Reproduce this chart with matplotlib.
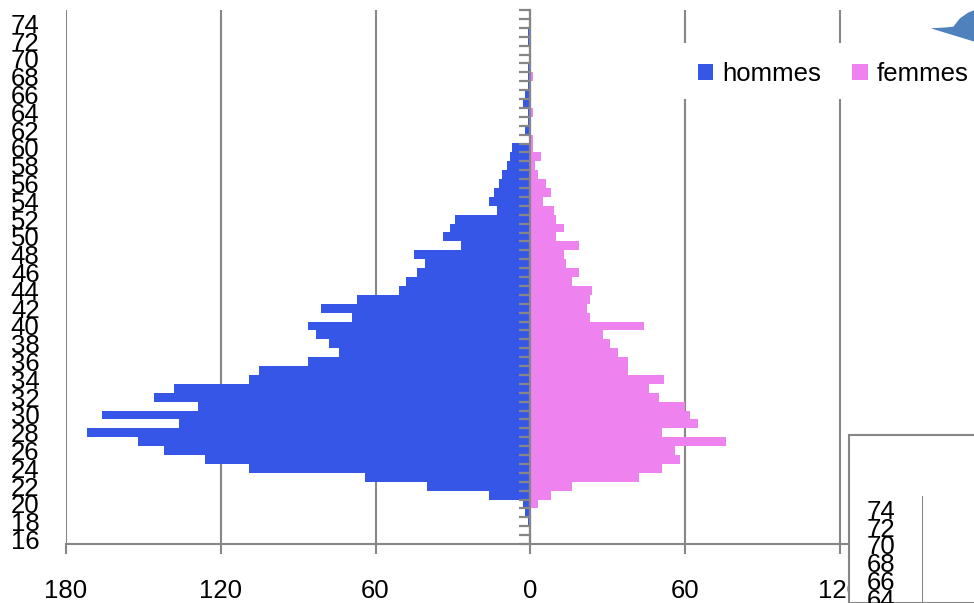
import matplotlib
matplotlib.use("Agg")
import matplotlib.pyplot as plt
from matplotlib.patches import Rectangle, Polygon

# pyramide des ages : une barre par age
ages = list(range(16, 76))
hommes = [0, 0, 1, 2, 3, 16, 40, 64, 109, 126,
          142, 152, 172, 136, 166, 129, 146, 138, 109, 105,
          86, 74, 78, 83, 86, 69, 81, 67, 51, 48,
          44, 41, 45, 27, 34, 31, 29, 13, 16, 14,
          12, 11, 9, 8, 7, 0, 2, 1, 1, 3,
          2, 1, 1, 1, 0, 0, 1, 1, 0, 0]
femmes = [0, 0, 0, 0, 3, 8, 16, 42, 51, 58,
          56, 76, 51, 65, 62, 60, 50, 46, 52, 38,
          38, 34, 31, 28, 44, 23, 22, 23, 24, 16,
          19, 14, 13, 19, 10, 13, 10, 9, 5, 8,
          6, 3, 2, 4, 1, 1, 0, 0, 1, 0,
          0, 0, 1, 0, 0, 0, 0, 0, 0, 0]
age_labels = list(range(16, 76, 2))
x_ticks = [-180, -120, -60, 0, 60, 120]
series = ['hommes', 'femmes']

W, H = 974, 603
plt.rcParams['font.family'] = ['Liberation Sans', 'DejaVu Sans']
plt.rcParams['font.size'] = 18.5

grey = '#868686'
bleu = '#3656E8'
rose = '#EE82EE'


def px(x0, y0, x1, y1):
    # boite en pixels (origine en haut a gauche) -> fraction de figure
    return [x0 / W, 1 - y1 / H, (x1 - x0) / W, (y1 - y0) / H]


def pyramide(ax):
    ax.barh(ages, [-v for v in hommes], height=1, color=bleu,
            edgecolor='none', label=series[0])
    ax.barh(ages, femmes, height=1, color=rose,
            edgecolor='none', label=series[1])
    ax.set_xlim(-180, 180)
    ax.set_ylim(15.5, 75.5)
    ax.set_xticks(x_ticks)
    ax.set_xticklabels([str(abs(t)) for t in x_ticks])
    ax.set_yticks(age_labels)
    ax.set_yticklabels([str(a) for a in age_labels])
    ax.tick_params(axis='y', length=0, pad=19)
    ax.tick_params(axis='x', length=7, width=1.5, color=grey, pad=18)
    ax.grid(axis='x', color=grey, linewidth=1.5)
    ax.set_axisbelow(True)
    for s in ['top', 'right', 'left']:
        ax.spines[s].set_visible(False)
    ax.spines['bottom'].set_color(grey)
    ax.spines['bottom'].set_linewidth(1.5)
    # axe central (x = 0) avec une graduation entre chaque age
    centre = ax.secondary_yaxis(0.5)
    centre.set_alignment('left')
    centre.set_yticks([a - 0.5 for a in ages] + [ages[-1] + 0.5])
    centre.tick_params(length=8, width=1.6, color=grey, labelleft=False, labelright=False)
    centre.spines['left'].set_color(grey)
    centre.spines['left'].set_linewidth(1.6)
    centre.set_zorder(3)
    return ax


fig = plt.figure(figsize=(W / 100, H / 100), dpi=100)

ax = fig.add_axes(px(66, 10, 994.6, 544))
pyramide(ax)

# fond blanc de la legende
fig.add_artist(Rectangle((680 / W, 1 - 99 / H), 300 / W, 56 / H,
                         transform=fig.transFigure, facecolor='white',
                         edgecolor='none', zorder=1))
handles, labels = ax.get_legend_handles_labels()
fig.legend(handles, labels, loc='center left', bbox_to_anchor=(698 / W, 1 - 74 / H),
           ncol=2, frameon=False, borderpad=0, borderaxespad=0,
           handlelength=0.6, handleheight=0.6, handletextpad=0.35,
           columnspacing=1.2, fontsize=18.5)

# second graphique (copie) qui recouvre le coin en bas a droite
fig.add_artist(Rectangle((849 / W, 0), 200 / W, 1 - 435 / H,
                         transform=fig.transFigure, facecolor='white',
                         edgecolor=grey, linewidth=1.5, zorder=2))
ax2 = fig.add_axes(px(922, 496, 922 + 928.6, 496 + 534))
pyramide(ax2)
ax2.patch.set_alpha(0)
ax2.set_zorder(3)

# forme bleue coupee en haut a droite
forme = [(930.7, 28.3), (945, 27.5), (953.3, 26.7), (957, 22), (960, 18.3),
         (964, 15.5), (968, 12.7), (974.5, 10), (974.5, 41.7)]
fig.add_artist(Polygon([(x / W, 1 - y / H) for x, y in forme], closed=True,
                       transform=fig.transFigure, facecolor='#4F81BD',
                       edgecolor='none', zorder=6))

fig.savefig('out.png', dpi=100)
